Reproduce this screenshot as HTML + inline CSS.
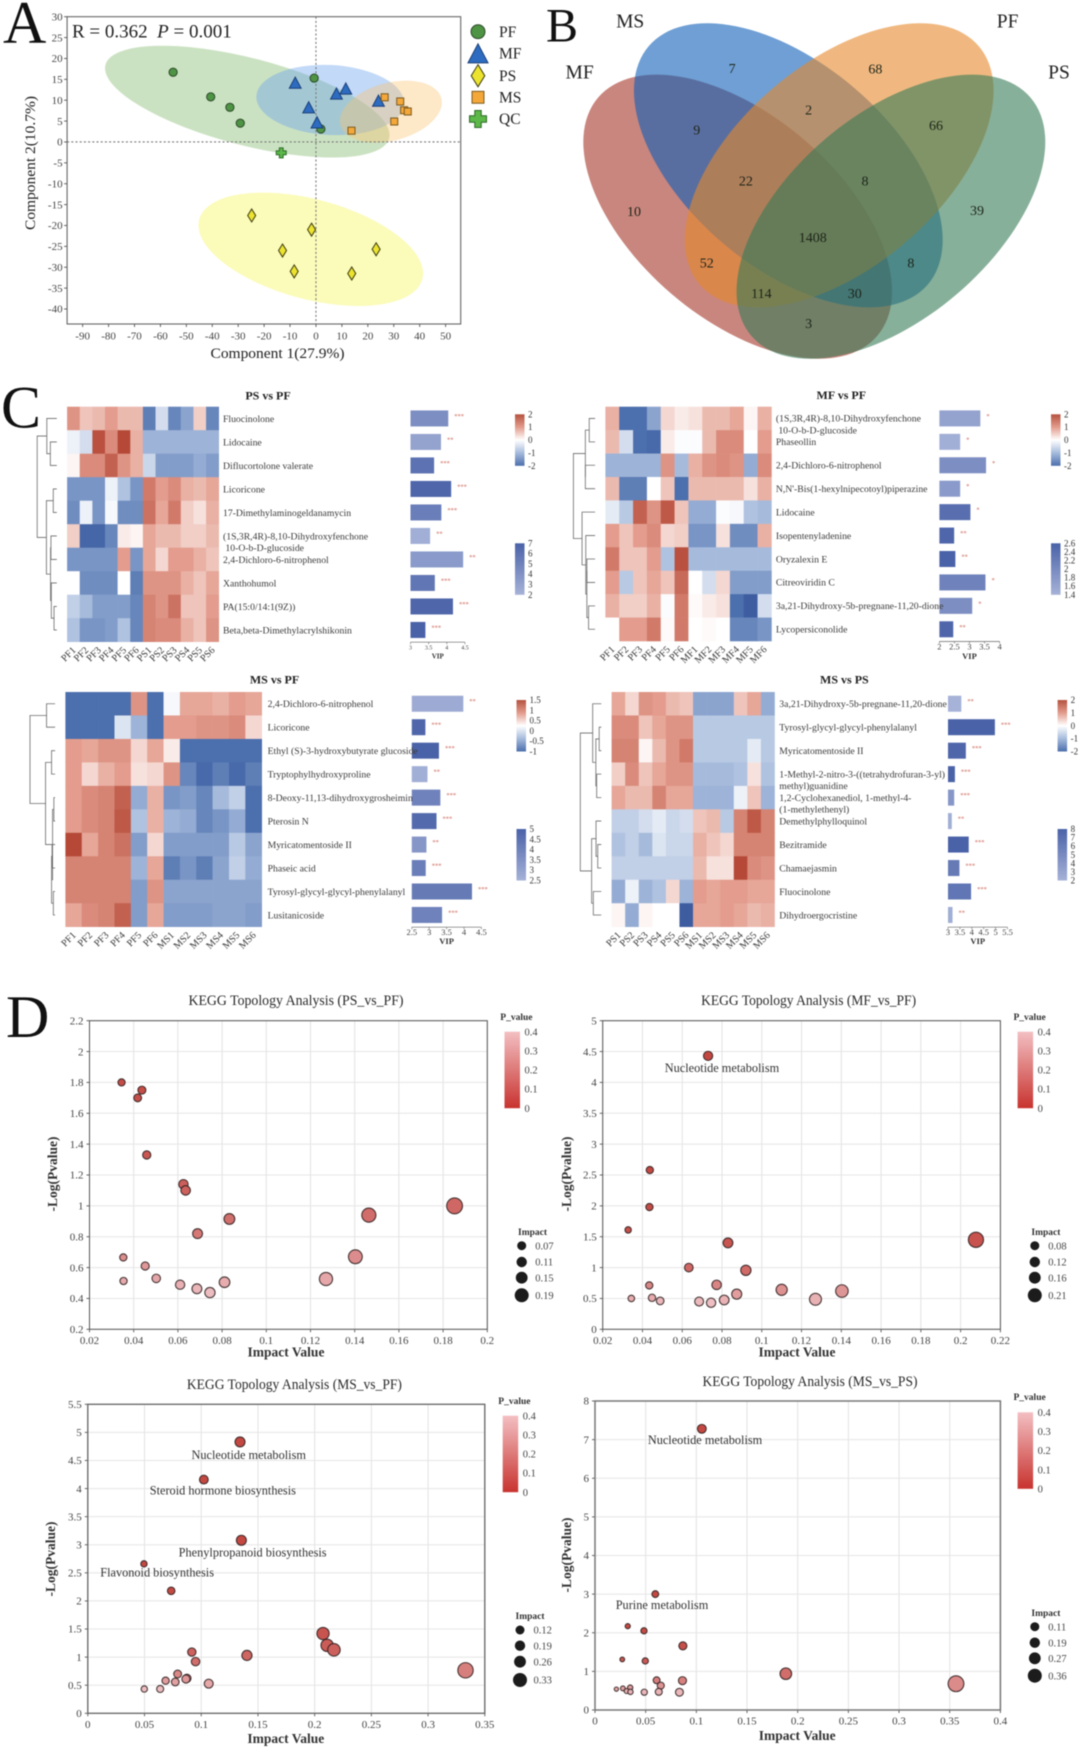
<!DOCTYPE html>
<html lang="en">
<head>
<meta charset="utf-8">
<title>Metabolomics multi-panel figure</title>
<style>
html,body{margin:0;padding:0;background:#fff;}
#figure{display:block;width:1080px;height:1749px;font-family:"Liberation Serif",serif;filter:blur(0.4px);}
</style>
</head>
<body>
<svg id="figure" xmlns="http://www.w3.org/2000/svg" width="1080" height="1749" viewBox="0 0 1080 1749">
  <defs>
    <linearGradient id="divGrad" x1="0" y1="0" x2="0" y2="1">
      <stop offset="0" stop-color="#b5523f"/><stop offset="0.25" stop-color="#e39c8d"/><stop offset="0.5" stop-color="#ffffff"/><stop offset="0.75" stop-color="#a6bbdc"/><stop offset="1" stop-color="#4c6fad"/>
    </linearGradient>
    <linearGradient id="vipGrad" x1="0" y1="0" x2="0" y2="1">
      <stop offset="0" stop-color="#4a62a8"/><stop offset="1" stop-color="#a6b2d8"/>
    </linearGradient>
    <linearGradient id="pGrad" x1="0" y1="0" x2="0" y2="1">
      <stop offset="0" stop-color="#f3bfc2"/><stop offset="1" stop-color="#c8332f"/>
    </linearGradient>
  </defs>
  <rect width="1080" height="1749" fill="#fff"/>

  <g fill="#111" font-size="60">
    <text x="3" y="43">A</text>
    <text x="546" y="41.7" font-size="48">B</text>
    <text x="1" y="427.7">C</text>
    <text x="6" y="1037">D</text>
  </g>

  <g id="panelA"></g>

  <g id="panelB">
    <ellipse cx="737.7" cy="216.7" rx="183.5" ry="101.7" transform="rotate(40.5 737.7 216.7)" fill="rgb(165,53,40)" fill-opacity="0.6"/>
    <ellipse cx="788.3" cy="165.3" rx="183.5" ry="101.7" transform="rotate(40.5 788.3 165.3)" fill="rgb(15,95,183)" fill-opacity="0.6"/>
    <ellipse cx="839.2" cy="165.3" rx="183.5" ry="101.7" transform="rotate(-40.5 839.2 165.3)" fill="rgb(230,137,43)" fill-opacity="0.6"/>
    <ellipse cx="890.9" cy="216.7" rx="183.5" ry="101.7" transform="rotate(-40.5 890.9 216.7)" fill="rgb(55,123,87)" fill-opacity="0.6"/>
    <g font-size="19.5" fill="#222" text-anchor="middle">
      <text x="579.6" y="78.3">MF</text>
      <text x="630.2" y="27.7">MS</text>
      <text x="1007.6" y="27.7">PF</text>
      <text x="1059" y="78.3">PS</text>
    </g>
    <g font-size="14" fill="#1c2418" text-anchor="middle">
      <text x="732.1" y="72.8">7</text>
      <text x="875.4" y="73.5">68</text>
      <text x="808.6" y="114.5">2</text>
      <text x="696.7" y="134.5">9</text>
      <text x="936" y="129.8">66</text>
      <text x="745.9" y="185.5">22</text>
      <text x="865" y="185.5">8</text>
      <text x="634" y="215.8">10</text>
      <text x="977" y="215.2">39</text>
      <text x="812.7" y="241.8">1408</text>
      <text x="706.7" y="267.5">52</text>
      <text x="910.9" y="267.5">8</text>
      <text x="761.4" y="297.8">114</text>
      <text x="854.7" y="297.8">30</text>
      <text x="808.6" y="327.8">3</text>
    </g>
  </g>

  <g id="panelC"></g>
  <g id="panelD"></g>
</svg>

<script>
/* ---------- Panel A data ---------- */
const pcaXTicks = [-90,-80,-70,-60,-50,-40,-30,-20,-10,0,10,20,30,40,50];
const pcaYTicks = [30,25,20,15,10,5,0,-5,-10,-15,-20,-25,-30,-35,-40];
const pfX = [-55.1,-40.6,-33.2,-29.2,-0.7,1.9];
const pfY = [16.7,10.8,8.3,4.5,15.3,3.1];
const mfX = [-8,11.5,7.9,24.1,-2.8,0.4];
const mfY = [14.2,12.8,11.6,9.9,8.3,4.7];
const psX = [-24.8,-1.7,-12.9,-8.4,23.2,13.8];
const psY = [-17.6,-21,-26,-31,-25.7,-31.5];
const msX = [26.5,32.5,34,35.4,30.2,13.7];
const msY = [10.7,9.7,7.6,7.3,4.9,2.7];
const qcX = [-13.4];
const qcY = [-2.6];
const ellipseCentreX = [-26.5,5.5,28.9,-2];
const ellipseCentreY = [9.66,10.05,7.26,-25.7];

/* ---------- Panel C data ---------- */
const heat1Title = "PS vs PF";
const heat1Cols = ["PF1","PF2","PF3","PF4","PF5","PF6","PS1","PS2","PS3","PS4","PS5","PS6"];
const heat1Labels = ["Fluocinolone","Lidocaine","Diflucortolone valerate","Licoricone","17-Dimethylaminogeldanamycin","(1S,3R,4R)-8,10-Dihydroxyfenchone\n 10-O-b-D-glucoside","2,4-Dichloro-6-nitrophenol","Xanthohumol","PA(15:0/14:1(9Z))","Beta,beta-Dimethylacrylshikonin"];
const heat1Values = [
 [1.1,0.6,0.7,1.0,0.7,0.7,-1.8,-0.5,-1.7,-1.3,0.5,-1.7],
 [-0.2,-0.5,1.9,1.2,2,0.8,-1.1,-1.1,-1.1,-1.1,-1.1,-1.1],
 [0.1,1.2,1.2,1.7,1.1,0.8,-0.6,-1.4,-1.4,-1.4,-1.2,-1.4],
 [-1.5,-1.5,-1.5,-0.2,-0.9,-1.5,1.4,1.0,1.2,0.8,0.7,0.9],
 [-1.6,-0.2,-1.5,-0.1,-1.6,-1.6,1.5,0.9,1.4,0.5,0.3,0.8],
 [0.5,-2.2,-2.2,-1.7,0.2,0.1,0.9,0.7,0.7,0.5,0.5,0.7],
 [-1.5,-1.5,-1.5,-1.5,1,-1.5,0.9,0.4,1,1,0.8,0.6],
 [0,-1.6,-1.6,-1.6,0,-1.8,1.1,1.1,1.1,0.8,0.6,0.9],
 [-0.7,-1,-1.4,-1.4,-1.4,-1.7,1.3,1.1,1.5,0.6,0.6,1],
 [-0.9,-1.5,-1.5,-1.4,-0.9,-1.7,1.3,1.2,1.2,0.8,0.6,1.1]];
const heat1Vip = [4.04,3.84,3.65,4.12,3.85,3.54,4.45,3.67,4.17,3.41];
const heat1Shade = [0.45,0.2,0.8,0.95,0.65,0.05,0.3,0.75,0.95,1];
const heat1Stars = [3,2,3,3,3,2,2,3,3,3];
const heat1VipTicks = [3,3.5,4,4.5];
const heat1ScaleTicks = [2,1,0,-1,-2];
const heat1VipScale = [7,6,5,4,3,2];
const heat1Tree = [0,[0.49,0,[0.67,1,2]],[0.47,[0.82,3,4],[0.68,[0.7,5,6],[0.72,7,[0.86,8,9]]]]];

const heat2Title = "MF vs PF";
const heat2Cols = ["PF1","PF2","PF3","PF4","PF5","PF6","MF1","MF2","MF3","MF4","MF5","MF6"];
const heat2Labels = ["(1S,3R,4R)-8,10-Dihydroxyfenchone\n 10-O-b-D-glucoside","Phaseollin","2,4-Dichloro-6-nitrophenol","N,N'-Bis(1-hexylnipecotoyl)piperazine","Lidocaine","Isopentenyladenine","Oryzalexin E","Citreoviridin C","3a,21-Dihydroxy-5b-pregnane-11,20-dione","Lycopersiconolide"];
const heat2Values = [
 [0.8,-2,-2,-1.3,0.4,0.2,0.3,0.7,0.7,0.9,0.1,0.8],
 [0.7,-0.5,-2,-2.1,0.2,-0.05,-0.05,0.7,1.2,1.2,0,1],
 [-1.1,-1.1,-1.1,-1.1,1.1,-1,0.8,1.1,1.2,1.1,-1.2,1.2],
 [0.7,-1.8,-1.8,0,0.6,-2,0.7,0.7,0.7,0.7,0.3,0.8],
 [-0.3,-0.8,1.7,1.1,1.8,0.6,-1.2,-1.2,-0.05,-0.1,-0.9,-1],
 [1,0.6,1.0,1.2,0.4,0.5,-1.5,-1.5,0.3,-1.6,-1.6,0.8],
 [1.4,0.6,0.6,1,-0.9,1.9,-1,-1,-1,-1,-1,-1],
 [1,-0.8,0.6,0.9,0.6,1.6,0,-0.5,0.4,-1.4,-1.4,-1.4],
 [0.8,0.5,0.5,0.8,-0.05,1.4,0.05,0.2,0.3,-2,-2.4,-0.5],
 [0,1,1,1.4,0.05,1.4,0,0.05,0,-1.7,-1.7,-1.5]];
const heat2Vip = [3.36,2.69,3.55,2.69,3.03,2.49,2.53,3.53,3.09,2.46];
const heat2Shade = [0.2,0.05,0.45,0.3,0.85,0.95,1,0.6,0.45,0.95];
const heat2Stars = [1,1,1,1,1,2,2,1,1,2];
const heat2VipTicks = [2,2.5,3,3.5,4];
const heat2ScaleTicks = [2,1,0,-1,-2];
const heat2VipScale = [2.6,2.4,2.2,2,1.8,1.6,1.4];
const heat2Tree = [0,[0.55,[0.73,0,1],[0.55,2,3]],[0.4,4,[0.57,5,[0.62,[0.62,6,7],[0.7,8,9]]]]];

const heat3Title = "MS vs PF";
const heat3Cols = ["PF1","PF2","PF3","PF4","PF5","PF6","MS1","MS2","MS3","MS4","MS5","MS6"];
const heat3Labels = ["2,4-Dichloro-6-nitrophenol","Licoricone","Ethyl (S)-3-hydroxybutyrate glucoside","Tryptophylhydroxyproline","8-Deoxy-11,13-dihydroxygrosheimin","Pterosin N","Myricatomentoside II","Phaseic acid","Tyrosyl-glycyl-glycyl-phenylalanyl","Lusitanicoside"];
const heat3Values = [
 [-2,-2,-2,-2,1.1,-2,-0.1,0.9,0.9,0.8,1,0.9],
 [-2,-2,-2,-0.4,-1.1,-2,1,1,1.1,1.1,1.2,0.4],
 [1,0.9,1.1,1.1,0.4,0.9,0.2,-2,-2,-2,-2,-2],
 [1,0.4,0.8,1,0.3,0.4,1.1,-1.7,-2.1,-1.8,-2.1,-1.8],
 [1,1.2,1.3,1.7,-1.2,0.8,-1.5,-1.4,-1.7,-1,-0.7,-2],
 [1,1.2,1.3,1.8,-0.9,0.8,-1.1,-1.2,-1.7,-1.5,-1.2,-2],
 [2,0.9,1.3,1.5,-1.4,0.4,-1.4,-1.4,-1.4,-1.4,-0.8,-1.3],
 [1.3,1.3,1.3,1.3,-1.1,0.9,-1.8,-1.5,-1.8,-1.3,-0.7,-1.2],
 [1.3,1.3,1.3,1.3,-1.4,1.1,-1.3,-1.3,-1.3,-1.3,-1.3,-1.3],
 [0.9,1.2,1.3,1.7,-1.4,0.9,-1.4,-1.4,-1.4,-1.3,-1.3,-1.4]];
const heat3Vip = [3.98,2.89,3.28,2.95,3.32,3.21,2.92,2.9,4.23,3.37];
const heat3Shade = [0.1,0.95,1,0.05,0.6,0.9,0.35,0.65,0.7,0.6];
const heat3Stars = [2,3,3,2,3,3,2,3,3,3];
const heat3VipTicks = [2.5,3,3.5,4,4.5];
const heat3ScaleTicks = [1.5,1,0.5,0,-0.5,-1];
const heat3VipScale = [5,4.5,4,3.5,3,2.5];
const heat3Tree = [0,[0.66,0,1],[0.62,[0.86,2,3],[0.9,[0.95,4,5],[0.86,[0.88,6,7],[0.93,8,9]]]]];

const heat4Title = "MS vs PS";
const heat4Cols = ["PS1","PS2","PS3","PS4","PS5","PS6","MS1","MS2","MS3","MS4","MS5","MS6"];
const heat4Labels = ["3a,21-Dihydroxy-5b-pregnane-11,20-dione","Tyrosyl-glycyl-glycyl-phenylalanyl","Myricatomentoside II","1-Methyl-2-nitro-3-((tetrahydrofuran-3-yl)\nmethyl)guanidine","1,2-Cyclohexanediol, 1-methyl-4-\n(1-methylethenyl)","Demethylphylloquinol","Bezitramide","Chamaejasmin","Fluocinolone","Dihydroergocristine"];
const heat4Values = [
 [0.9,0.4,1.1,1,0.7,0.6,-1.3,-1.3,-1.3,0.6,0.9,-1.2],
 [1.2,1.2,0.6,0.9,1.1,1.1,-0.8,-0.8,-0.8,-0.8,-0.8,-0.8],
 [1.3,1.3,0.1,0.7,1.1,1.4,-0.8,-0.8,-0.8,-0.8,-0.3,-0.8],
 [0.5,1.2,0.6,0.9,1.1,1.1,-1,-1,-1,-0.9,0.3,-0.9],
 [0.9,0.7,0.7,1.3,0.9,0.9,-1.1,-1.1,-1.1,-0.2,0.6,-1.1],
 [-0.7,-0.7,-0.5,-0.3,-0.6,-0.5,0.6,0.7,-0.8,1.3,1.8,1.3],
 [-0.9,-0.7,-1,-0.4,-0.6,-0.6,0.8,0.6,0.4,1.3,1.3,1.3],
 [-0.7,-0.7,-0.7,-0.7,-0.7,-0.7,0.7,0.3,0.3,2,1.2,1.1],
 [-1.2,-0.2,-1.1,-0.9,0.4,-1.1,1,0.9,1,1,0.9,0.9],
 [0.1,-1.2,0.1,0,0,-2.4,0.9,0.9,1,0.9,0.7,0.8]];
const heat4Vip = [3.56,4.97,3.75,3.29,3.26,3.16,3.87,3.48,3.97,3.19];
const heat4Shade = [0,1,0.95,1,0.35,0.05,1,0.7,0.75,0.05];
const heat4Stars = [2,3,3,3,3,2,3,3,3,2];
const heat4VipTicks = [3,3.5,4,4.5,5,5.5];
const heat4ScaleTicks = [2,1,0,-1,-2];
const heat4VipScale = [8,7,6,5,4,3,2];
const heat4Tree = [0,[0.59,0,[0.74,[0.9,1,2],[0.78,3,4]]],[0.54,[0.75,5,[0.83,6,7]],[0.62,8,9]]];

/* ---------- Panel D data ---------- */
const kegg1Impact = [0.0345,0.0437,0.0418,0.0459,0.0625,0.0635,0.0833,0.0689,0.1464,0.1852,0.1403,0.0353,0.0452,0.0354,0.0502,0.061,0.0686,0.0745,0.0811,0.127];
const kegg1LogP = [1.80,1.75,1.70,1.33,1.14,1.10,0.915,0.82,0.94,1.0,0.67,0.666,0.61,0.513,0.53,0.489,0.463,0.438,0.505,0.526];
const kegg1XTicks = [0.02,0.04,0.06,0.08,0.1,0.12,0.14,0.16,0.18,0.2];
const kegg1YTicks = [0.2,0.4,0.6,0.8,1,1.2,1.4,1.6,1.8,2,2.2];
const kegg1SizeLegend = ["0.07","0.11","0.15","0.19"];

const kegg2Impact = [0.073,0.0437,0.0435,0.0328,0.083,0.2077,0.0633,0.092,0.0773,0.0434,0.11,0.1403,0.0874,0.0344,0.0448,0.0489,0.0685,0.0745,0.0811,0.127];
const kegg2LogP = [4.43,2.58,1.98,1.61,1.40,1.45,1.0,0.956,0.72,0.71,0.64,0.62,0.57,0.50,0.51,0.46,0.45,0.43,0.475,0.486];
const kegg2XTicks = [0.02,0.04,0.06,0.08,0.1,0.12,0.14,0.16,0.18,0.2,0.22];
const kegg2YTicks = [0,0.5,1,1.5,2,2.5,3,3.5,4,4.5,5];
const kegg2SizeLegend = ["0.08","0.12","0.16","0.21"];

const kegg3Impact = [0.1342,0.1023,0.1354,0.0495,0.0735,0.2074,0.211,0.217,0.1403,0.0917,0.095,0.333,0.0792,0.0686,0.0771,0.0874,0.0865,0.1066,0.0638,0.0498];
const kegg3LogP = [4.83,4.16,3.08,2.66,2.18,1.42,1.21,1.13,1.03,1.09,0.92,0.765,0.70,0.58,0.558,0.623,0.61,0.528,0.433,0.433];
const kegg3XTicks = [0,0.05,0.1,0.15,0.2,0.25,0.3,0.35];
const kegg3YTicks = [0,0.5,1,1.5,2,2.5,3,3.5,4,4.5,5,5.5];
const kegg3SizeLegend = ["0.12","0.19","0.26","0.33"];

const kegg4Impact = [0.1054,0.0595,0.0323,0.0483,0.0867,0.0269,0.0496,0.1883,0.3562,0.0608,0.0863,0.0649,0.0211,0.0275,0.0347,0.0313,0.035,0.0486,0.0629,0.0833];
const kegg4LogP = [7.28,3.0,2.17,2.05,1.66,1.31,1.27,0.94,0.68,0.77,0.76,0.63,0.54,0.56,0.58,0.49,0.47,0.46,0.47,0.46];
const kegg4XTicks = [0,0.05,0.1,0.15,0.2,0.25,0.3,0.35,0.4];
const kegg4YTicks = [0,1,2,3,4,5,6,7,8];
const kegg4SizeLegend = ["0.11","0.19","0.27","0.36"];

const pValueTicks = [0.4,0.3,0.2,0.1,0];

/* ---------- helpers ---------- */
const NS = "http://www.w3.org/2000/svg";
function el(parent, tag, attrs) {
  const e = document.createElementNS(NS, tag);
  for (const k in attrs) e.setAttribute(k, attrs[k]);
  parent.appendChild(e);
  return e;
}
function txt(parent, name, x, y, str, size, opts) {
  const o = opts || {};
  const e = el(parent, "text", {x: x, y: y, "font-size": size, fill: o.fill || "#333"});
  if (o.anchor) e.setAttribute("text-anchor", o.anchor);
  if (o.bold) e.setAttribute("font-weight", "bold");
  if (o.italic) e.setAttribute("font-style", "italic");
  if (o.rotate !== undefined) e.setAttribute("transform", "rotate(" + o.rotate + " " + x + " " + y + ")");
  if (o.length) {
    e.setAttribute("textLength", o.length);
    e.setAttribute("lengthAdjust", "spacingAndGlyphs");
  }
  e.setAttribute("xml:space", "preserve");
  e.style.whiteSpace = "pre";
  
  
  e.textContent = str;
  return e;
}
function seg(parent, name, x1, y1, x2, y2, stroke, w, dash) {
  const l = el(parent, "line", {x1: x1, y1: y1, x2: x2, y2: y2, stroke: stroke, "stroke-width": w});
  if (dash) l.setAttribute("stroke-dasharray", dash);
  
  
  return l;
}
function group(parent, name) {
  const g = el(parent, "g", {});
  
  
  return g;
}
function marker(parent, name, type, x, y, s) {
  let m;
  if (type === "circle") {
    m = el(parent, "circle", {cx: x, cy: y, r: 4.1 * s, fill: "#4e9444", stroke: "#2c4a28", "stroke-width": 1});
  } else if (type === "triangle") {
    const w = 5.9 * s, h = 5.6 * s;
    m = el(parent, "polygon", {points: (x - w) + "," + (y + h) + " " + x + "," + (y - h) + " " + (x + w) + "," + (y + h), fill: "#2d6cc0", stroke: "#1c3f78", "stroke-width": 1});
  } else if (type === "diamond") {
    const w = 4 * s, h = 6.5 * s;
    m = el(parent, "polygon", {points: x + "," + (y - h) + " " + (x + w) + "," + y + " " + x + "," + (y + h) + " " + (x - w) + "," + y, fill: "#ece32f", stroke: "#3a3a10", "stroke-width": 1});
  } else if (type === "square") {
    const h = 3.5 * s;
    m = el(parent, "rect", {x: x - h, y: y - h, width: 2 * h, height: 2 * h, fill: "#f5a83a", stroke: "#7a5a20", "stroke-width": 1});
  } else {
    const a = 5 * s, b = 1.9 * s;
    m = el(parent, "polygon", {points: [[-b,-a],[b,-a],[b,-b],[a,-b],[a,b],[b,b],[b,a],[-b,a],[-b,b],[-a,b],[-a,-b],[-b,-b]].map(p => (x + p[0]) + "," + (y + p[1])).join(" "), fill: "#5cb848", stroke: "#2c6a28", "stroke-width": 1});
  }
  
  
  return m;
}

/* ---------- Panel A ---------- */
(function () {
  const root = document.getElementById("panelA");
  const fx = v => 82.64 + (v + 90) * (445.6 - 82.64) / 140;
  const fy = v => 16.7 + (30 - v) * (309 - 16.7) / 70;
  const L = 67.1, R = 460.7, T = 16.7, B = 324;

  const shapes = group(root, "confidence-ellipses");
  const ellipseNames = ["pf-ellipse", "mf-ellipse", "ms-ellipse", "ps-ellipse"];
  const ellipseSize = [[146.5,43.6,14.5,"rgba(140,190,120,0.45)"],[74,35,3,"rgba(110,165,235,0.42)"],[52.2,28.9,-15,"rgba(250,195,110,0.38)"],[115.5,49.9,15,"rgba(248,248,140,0.6)"]];
  ellipseCentreX.forEach((cx, i) => {
    const px = fx(cx), py = fy(ellipseCentreY[i]), s = ellipseSize[i];
    const e = el(shapes, "ellipse", {cx: px, cy: py, rx: s[0], ry: s[1], transform: "rotate(" + s[2] + " " + px + " " + py + ")", fill: s[3]});
    
    
  });

  const axes = group(root, "pca-axes");
  const frame = el(axes, "rect", {x: L, y: T, width: R - L, height: B - T, fill: "none", stroke: "#666", "stroke-width": 1.1});
  
  
  seg(axes, "pca-zero-line-x", L, fy(0), R, fy(0), "#777", 1.1, "2 2.2");
  seg(axes, "pca-zero-line-y", fx(0), T, fx(0), B, "#777", 1.1, "2 2.2");
  pcaXTicks.forEach(v => {
    seg(axes, "pca-x-tick", fx(v), B, fx(v), B + 3, "#555", 0.9);
    txt(axes, "pca-x-tick-label", fx(v), 339.5, String(v), 11, {anchor: "middle", fill: "#444"});
  });
  pcaYTicks.forEach(v => {
    seg(axes, "pca-y-tick", L - 3, fy(v), L, fy(v), "#555", 0.9);
    txt(axes, "pca-y-tick-label", L - 4.5, fy(v) + 3.7, String(v), 11, {anchor: "end", fill: "#444"});
  });
  txt(axes, "pca-x-axis-title", 277.5, 358, "Component 1(27.9%)", 15, {anchor: "middle", fill: "#222", length: 134});
  txt(axes, "pca-y-axis-title", 35, 163, "Component 2(10.7%)", 15, {anchor: "middle", fill: "#222", rotate: -90, length: 134});

  const stat = txt(axes, "pca-statistics-annotation", 72, 37.5, "R = 0.362  ", 19, {fill: "#222"});
  const ital = document.createElementNS(NS, "tspan");
  ital.setAttribute("font-style", "italic");
  ital.textContent = "P";
  stat.appendChild(ital);
  const rest = document.createElementNS(NS, "tspan");
  rest.textContent = " = 0.001";
  stat.appendChild(rest);

  const series = [["pf-point","circle",pfX,pfY],["mf-point","triangle",mfX,mfY],["ps-point","diamond",psX,psY],["ms-point","square",msX,msY],["qc-point","plus",qcX,qcY]];
  const pts = group(root, "pca-points");
  series.forEach(s => s[2].forEach((x, i) => marker(pts, s[0], s[1], fx(x), fy(s[3][i]), 1)));

  const leg = group(root, "pca-legend");
  const names = ["PF","MF","PS","MS","QC"];
  const rows = [31.7,53.3,75.7,97.3,119];
  series.forEach((s, i) => {
    marker(leg, "legend-marker-" + names[i].toLowerCase(), s[1], 478, rows[i], 1.7);
    txt(leg, "legend-entry-" + names[i].toLowerCase(), 499, rows[i] + 5.2, names[i], 15.5, {fill: "#222"});
  });
})();

/* ---------- Panel C ---------- */
const heatStops = [[-2.5,[58,88,158]],[-2,[76,111,173]],[-1,[166,187,220]],[0,[255,255,255]],[1,[227,156,141]],[2,[181,72,54]]];
function heatColor(v) {
  const c = Math.max(-2.5, Math.min(2, v));
  for (let i = 0; i < heatStops.length - 1; i++) {
    const a = heatStops[i], b = heatStops[i + 1];
    if (c <= b[0]) {
      const t = (c - a[0]) / (b[0] - a[0]);
      return "rgb(" + a[1].map((q, j) => Math.round(q + (b[1][j] - q) * t)).join(",") + ")";
    }
  }
  return "rgb(181,72,54)";
}
function vipColor(t) {
  const dark = [74,98,168], light = [166,178,216];
  return "rgb(" + dark.map((q, j) => Math.round(light[j] + (q - light[j]) * t)).join(",") + ")";
}
function drawHeat(cfg) {
  const root = group(document.getElementById("panelC"), cfg.id);
  txt(root, cfg.id + "-title", cfg.titleX, cfg.titleY, cfg.title, 12, {anchor: "middle", bold: true, fill: "#222"});
  const nRows = cfg.values.length, nCols = cfg.cols.length;
  const cw = (cfg.x1 - cfg.x0) / nCols, rh = (cfg.y1 - cfg.y0) / nRows;
  const rowMid = i => cfg.y0 + (i + 0.5) * rh;

  const cells = group(root, cfg.id + "-cells");
  cfg.values.forEach((row, r) => row.forEach((v, c) => {
    const cell = el(cells, "rect", {x: cfg.x0 + c * cw, y: cfg.y0 + r * rh, width: cw + 0.3, height: rh + 0.3, fill: heatColor(v)});
    
    
  }));

  const colLabs = group(root, cfg.id + "-column-labels");
  cfg.cols.forEach((lab, c) => {
    txt(colLabs, "heatmap-column-label", cfg.x0 + (c + 0.5) * cw + 3, cfg.y1 + 9, lab, 10, {anchor: "end", rotate: -45, fill: "#3a3a3a"});
  });

  const tree = group(root, cfg.id + "-dendrogram");
  (function walk(node) {
    if (typeof node === "number") return {x: cfg.leafX, y: rowMid(node)};
    const a = walk(node[1]), b = walk(node[2]);
    const X = cfg.rootX + node[0] * (cfg.leafX - cfg.rootX);
    const p = el(tree, "path", {d: "M" + a.x + " " + a.y + "H" + X + "V" + b.y + "H" + b.x, fill: "none", stroke: "#6a6a6a", "stroke-width": 0.8});
    
    
    return {x: X, y: (a.y + b.y) / 2};
  })(cfg.tree);

  const base = cfg.vipTicks[0];
  const bx = v => cfg.barX + (v - base) * cfg.barUnit;
  const bars = group(root, cfg.id + "-vip-bars");
  cfg.vip.forEach((v, i) => {
    const b = el(bars, "rect", {x: bx(base), y: rowMid(i) - 8, width: bx(v) - bx(base), height: 16, fill: vipColor(cfg.shade[i])});
    
    
    txt(bars, "vip-significance-stars", bx(v) + 6, rowMid(i) - 0.5, "*".repeat(cfg.stars[i]), 6.5, {fill: "#d98a80", bold: true});
  });
  const axisRight = bx(cfg.vipTicks[cfg.vipTicks.length - 1]);
  seg(bars, "vip-axis-line", bx(base), cfg.y1 + 0.5, axisRight, cfg.y1 + 0.5, "#666", 0.7);
  cfg.vipTicks.forEach(t => {
    seg(bars, "vip-axis-tick", bx(t), cfg.y1 + 0.5, bx(t), cfg.y1 + 2.5, "#666", 0.6);
    txt(bars, "vip-axis-tick-label", bx(t), cfg.y1 + cfg.vipTickDy, String(t), cfg.vipTickSize, {anchor: "middle", fill: "#444"});
  });
  txt(bars, "vip-axis-title", (bx(base) + axisRight) / 2, cfg.y1 + cfg.vipTitleDy, "VIP", cfg.vipTickSize < 7 ? 7 : 8.5, {anchor: "middle", bold: true, fill: "#333"});

  const labels = group(root, cfg.id + "-row-labels");
  cfg.labels.forEach((lab, i) => {
    lab.split("\n").forEach((line, j) => {
      txt(labels, "heatmap-row-label", cfg.labelX, rowMid(i) + 3.3 + j * 11.7, line, 9.7, {fill: "#3a3a3a"});
    });
  });

  const scale = group(root, cfg.id + "-color-scales");
  [[cfg.scale1Y, "divGrad", cfg.scaleTicks, "heatmap-colorbar"], [cfg.scale2Y, "vipGrad", cfg.vipScale, "vip-colorbar"]].forEach(s => {
    const h = 51.5;
    const bar = el(scale, "rect", {x: cfg.scaleX, y: s[0], width: 9.5, height: h, fill: "url(#" + s[1] + ")"});
    
    
    s[2].forEach((t, i) => {
      txt(scale, s[3] + "-tick-label", cfg.scaleX + 13, s[0] + i * h / (s[2].length - 1) + 3, String(t), 9, {fill: "#333"});
    });
  });
}
drawHeat({id:"heatmap-ps-vs-pf",title:heat1Title,cols:heat1Cols,labels:heat1Labels,values:heat1Values,vip:heat1Vip,shade:heat1Shade,stars:heat1Stars,vipTicks:heat1VipTicks,scaleTicks:heat1ScaleTicks,vipScale:heat1VipScale,tree:heat1Tree,
  x0:67.1,x1:218.7,y0:406.7,y1:641.7,titleX:268,titleY:399.5,labelX:223,rootX:37.2,leafX:56.8,barX:410.5,barUnit:36.3,vipTickSize:6,vipTickDy:8,vipTitleDy:17,scaleX:515,scale1Y:414.3,scale2Y:543.3});
drawHeat({id:"heatmap-mf-vs-pf",title:heat2Title,cols:heat2Cols,labels:heat2Labels,values:heat2Values,vip:heat2Vip,shade:heat2Shade,stars:heat2Stars,vipTicks:heat2VipTicks,scaleTicks:heat2ScaleTicks,vipScale:heat2VipScale,tree:heat2Tree,
  x0:605.4,x1:771.4,y0:406.7,y1:641,titleX:841.3,titleY:399,labelX:775.9,rootX:573.4,leafX:595.1,barX:939.4,barUnit:30.1,vipTickSize:8.5,vipTickDy:8.5,vipTitleDy:18,scaleX:1051,scale1Y:414.3,scale2Y:543.3});
drawHeat({id:"heatmap-ms-vs-pf",title:heat3Title,cols:heat3Cols,labels:heat3Labels,values:heat3Values,vip:heat3Vip,shade:heat3Shade,stars:heat3Stars,vipTicks:heat3VipTicks,scaleTicks:heat3ScaleTicks,vipScale:heat3VipScale,tree:heat3Tree,
  x0:65.4,x1:261.7,y0:692,y1:926.7,titleX:274.5,titleY:683.3,labelX:267.6,rootX:30,leafX:55.1,barX:411.8,barUnit:34.8,vipTickSize:8.5,vipTickDy:8.5,vipTitleDy:17.5,scaleX:516.5,scale1Y:700,scale2Y:829});
drawHeat({id:"heatmap-ms-vs-ps",title:heat4Title,cols:heat4Cols,labels:heat4Labels,values:heat4Values,vip:heat4Vip,shade:heat4Shade,stars:heat4Stars,vipTicks:heat4VipTicks,scaleTicks:heat4ScaleTicks,vipScale:heat4VipScale,tree:heat4Tree,
  x0:611.6,x1:774.5,y0:692,y1:926.7,titleX:844.4,titleY:683.3,labelX:779.3,rootX:580.3,leafX:601.3,barX:948,barUnit:23.8,vipTickSize:8.5,vipTickDy:8.5,vipTitleDy:17.5,scaleX:1057.6,scale1Y:700,scale2Y:829});

/* ---------- Panel D ---------- */
function pColor(p) {
  const t = Math.max(0, Math.min(1, p / 0.4));
  const c0 = [196,72,66], c1 = [240,200,204];
  return "rgb(" + c0.map((q, j) => Math.round(q + (c1[j] - q) * t)).join(",") + ")";
}
function drawKegg(cfg) {
  const root = group(document.getElementById("panelD"), cfg.id);
  const xT = cfg.xTicks, yT = cfg.yTicks;
  const fx = v => cfg.x0 + (v - xT[0]) / (xT[xT.length - 1] - xT[0]) * (cfg.x1 - cfg.x0);
  const fy = v => cfg.y1 - (v - yT[0]) / (yT[yT.length - 1] - yT[0]) * (cfg.y1 - cfg.y0);

  txt(root, cfg.id + "-title", cfg.titleX, cfg.titleY, cfg.title, 14.3, {anchor: "middle", fill: "#2a2a2a", length: 215});

  const axes = group(root, cfg.id + "-axes");
  xT.forEach(v => {
    seg(axes, "kegg-vertical-gridline", fx(v), cfg.y0, fx(v), cfg.y1, "#e2e2e2", 1);
    seg(axes, "kegg-x-tick", fx(v), cfg.y1, fx(v), cfg.y1 + 3, "#555", 0.9);
    txt(axes, "kegg-x-tick-label", fx(v), cfg.y1 + 14.5, String(v), 11, {anchor: "middle", fill: "#444"});
  });
  yT.forEach(v => {
    seg(axes, "kegg-horizontal-gridline", cfg.x0, fy(v), cfg.x1, fy(v), "#e6e6e6", 1);
    seg(axes, "kegg-y-tick", cfg.x0 - 3, fy(v), cfg.x0, fy(v), "#555", 0.9);
    txt(axes, "kegg-y-tick-label", cfg.x0 - 6, fy(v) + 3.7, String(v), 11, {anchor: "end", fill: "#444"});
  });
  const frame = el(axes, "rect", {x: cfg.x0, y: cfg.y0, width: cfg.x1 - cfg.x0, height: cfg.y1 - cfg.y0, fill: "none", stroke: cfg.frame, "stroke-width": cfg.frameW});
  
  
  txt(axes, "kegg-x-axis-title", cfg.xTitleX, cfg.xTitleY, "Impact Value", 13.5, {anchor: "middle", bold: true, fill: "#333"});
  txt(axes, "kegg-y-axis-title", cfg.yTitleX + 5, cfg.yTitleY, "-Log(Pvalue)", 13.5, {anchor: "middle", rotate: -90, bold: true, fill: "#333"});

  const pts = group(root, cfg.id + "-bubbles");
  cfg.xs.forEach((x, i) => {
    const y = cfg.ys[i];
    const c = el(pts, "circle", {cx: fx(x), cy: fy(y), r: cfg.sizeK * Math.sqrt(x) + 0.3, fill: pColor(Math.pow(10, -y)), stroke: "#2a1c1c", "stroke-width": 1.1, "stroke-opacity": 0.85});
    
    
  });
  const notes = group(root, cfg.id + "-pathway-annotations");
  cfg.notes.forEach(n => {
    txt(notes, "kegg-pathway-label", fx(cfg.xs[n[0]]) + n[2], fy(cfg.ys[n[0]]) + n[3], n[1], 12.3, {fill: "#333"});
  });

  const pleg = group(root, cfg.id + "-p-value-legend");
  txt(pleg, "p-value-legend-title", cfg.pTitleX, cfg.pTitleY, "P_value", 9.5, {bold: true, fill: "#333"});
  const bar = el(pleg, "rect", {x: cfg.pBarX, y: cfg.pBarY, width: 15.5, height: 76.5, fill: "url(#pGrad)"});
  
  
  pValueTicks.forEach((t, i) => {
    const y = cfg.pBarY + i * 76.5 / (pValueTicks.length - 1);
    txt(pleg, "p-value-tick-label", cfg.pBarX + 20, y + 3.6, String(t), 10.5, {fill: "#444"});
  });

  const sleg = group(root, cfg.id + "-impact-legend");
  txt(sleg, "impact-legend-title", cfg.impactX, cfg.impactTitleY, "Impact", 9.5, {bold: true, fill: "#333"});
  const radii = [4.5,5.2,5.9,7];
  cfg.sizeLegend.forEach((lab, i) => {
    const c = el(sleg, "circle", {cx: cfg.impactDotX, cy: cfg.impactYs[i], r: radii[i], fill: "#1c1c1c"});
    
    
    txt(sleg, "impact-legend-label", cfg.impactDotX + 13.5, cfg.impactYs[i] + 3.6, lab, 10.5, {fill: "#444"});
  });
}
drawKegg({id:"kegg-ps-vs-pf",title:"KEGG Topology Analysis (PS_vs_PF)",xs:kegg1Impact,ys:kegg1LogP,xTicks:kegg1XTicks,yTicks:kegg1YTicks,sizeLegend:kegg1SizeLegend,notes:[],
  x0:89.5,x1:487.3,y0:1020.7,y1:1329.3,frame:"#555",frameW:1,titleX:296,titleY:1005,xTitleX:286,xTitleY:1356.5,yTitleX:52,yTitleY:1174,sizeK:17.7,
  pTitleX:500.3,pTitleY:1020,pBarX:504.5,pBarY:1031.7,impactX:518,impactTitleY:1235,impactDotX:521.7,impactYs:[1245.7,1262,1277.7,1295.3]});
drawKegg({id:"kegg-mf-vs-pf",title:"KEGG Topology Analysis (MF_vs_PF)",xs:kegg2Impact,ys:kegg2LogP,xTicks:kegg2XTicks,yTicks:kegg2YTicks,sizeLegend:kegg2SizeLegend,
  notes:[[0,"Nucleotide metabolism",-43.3,16]],
  x0:602.7,x1:1000.4,y0:1020.7,y1:1329.3,frame:"#555",frameW:1,titleX:808.6,titleY:1005,xTitleX:797,xTitleY:1356.5,yTitleX:566,yTitleY:1174,sizeK:16,
  pTitleX:1013.5,pTitleY:1020,pBarX:1017.6,pBarY:1031.7,impactX:1031.4,impactTitleY:1235,impactDotX:1034.8,impactYs:[1245.7,1262,1277.7,1295.3]});
drawKegg({id:"kegg-ms-vs-pf",title:"KEGG Topology Analysis (MS_vs_PF)",xs:kegg3Impact,ys:kegg3LogP,xTicks:kegg3XTicks,yTicks:kegg3YTicks,sizeLegend:kegg3SizeLegend,
  notes:[[0,"Nucleotide metabolism",-48.5,17.3],[1,"Steroid hormone biosynthesis",-54.1,14.7],[2,"Phenylpropanoid biosynthesis",-62.7,16.4],[3,"Flavonoid biosynthesis",-43.7,12.7]],
  x0:87.8,x1:484.8,y0:1404.3,y1:1713.3,frame:"#666",frameW:1.3,titleX:294.4,titleY:1389,xTitleX:285.8,xTitleY:1743,yTitleX:50,yTitleY:1559,sizeK:12.8,
  pTitleX:498.3,pTitleY:1404,pBarX:502.7,pBarY:1415.7,impactX:515.5,impactTitleY:1619,impactDotX:520,impactYs:[1630,1645.7,1661.7,1680]});
drawKegg({id:"kegg-ms-vs-ps",title:"KEGG Topology Analysis (MS_vs_PS)",xs:kegg4Impact,ys:kegg4LogP,xTicks:kegg4XTicks,yTicks:kegg4YTicks,sizeLegend:kegg4SizeLegend,
  notes:[[0,"Nucleotide metabolism",-54,15.3],[1,"Purine metabolism",-39.6,15]],
  x0:595,x1:1000.4,y0:1401,y1:1710,frame:"#777",frameW:1.5,titleX:810,titleY:1386,xTitleX:797.2,xTitleY:1740,yTitleX:566,yTitleY:1555,sizeK:12.7,
  pTitleX:1013.5,pTitleY:1400,pBarX:1017.6,pBarY:1412.3,impactX:1031.4,impactTitleY:1616,impactDotX:1034.8,impactYs:[1626.7,1642.7,1658.3,1675.7]});
</script>
</body>
</html>
